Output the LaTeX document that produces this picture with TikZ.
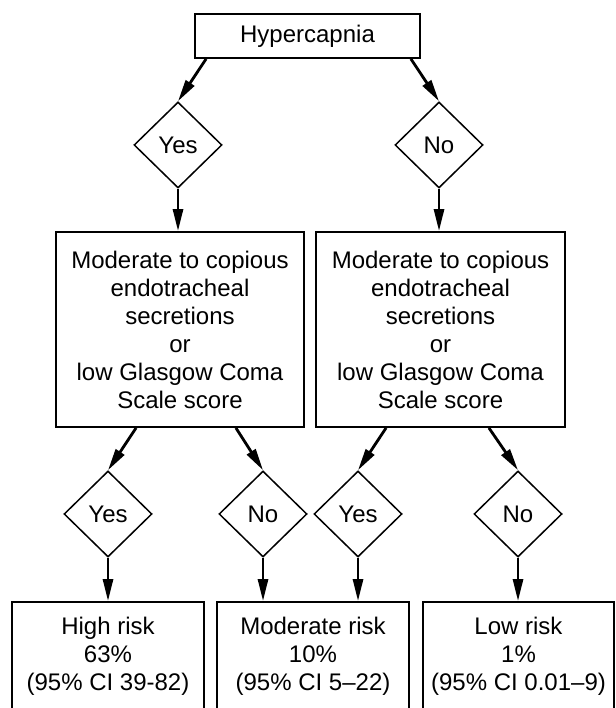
\documentclass[tikz,border=0pt]{standalone}
\usepackage{fontspec}
\setmainfont{Liberation Sans}
\usetikzlibrary{arrows.meta,shapes.geometric}

\begin{document}
\begin{tikzpicture}[x=1pt, y=1pt, font=\fontsize{24}{28}\selectfont,
	box/.style={draw, line width=1.8pt, align=center, inner sep=0pt},
	choice/.style={draw, diamond, line width=1.5pt, inner sep=0pt, minimum width=88pt, minimum height=86pt},
	arr/.style={line width=2.8pt, -{Triangle[length=22pt, width=10pt]}}]
	\useasboundingbox (0,0) rectangle (615,708);
	\clip (0,0) rectangle (615,708);
	\node[box, minimum width=225pt, minimum height=44pt] (hyper) at (307.5,672) {Hypercapnia};
	\node[choice] (yes1) at (178,563) {Yes};
	\node[choice] (no1) at (439,563) {No};
	\node[box, minimum width=248pt, minimum height=195pt] (secl) at (180,378.5) {Moderate to copious\\endotracheal\\secretions\\or\\low Glasgow Coma\\Scale score};
	\node[box, minimum width=249pt, minimum height=195pt] (secr) at (440.5,378.5) {Moderate to copious\\endotracheal\\secretions\\or\\low Glasgow Coma\\Scale score};
	\node[choice] (yes2) at (108,194) {Yes};
	\node[choice] (no2) at (263,194) {No};
	\node[choice] (yes3) at (358,194) {Yes};
	\node[choice] (no3) at (518,194) {No};
	\node[box, minimum width=192pt, minimum height=108pt] (high) at (108,52) {High risk\\63\%\\(95\% CI 39-82)};
	\node[box, minimum width=192pt, minimum height=108pt] (moder) at (313,52) {Moderate risk\\10\%\\(95\% CI 5–22)};
	\node[box, minimum width=191pt, minimum height=108pt] (low) at (518.5,52) {Low risk\\1\%\\(95\% CI 0.01–9)};
	\draw[arr] ([xshift=12pt]hyper.south west) -- (yes1.north);
	\draw[arr] ([xshift=-10pt]hyper.south east) -- (no1.north);
	\draw[arr] (yes1.south) -- (yes1.south |- secl.north);
	\draw[arr] (no1.south) -- (no1.south |- secr.north);
	\draw[arr] ([xshift=81pt]secl.south west) -- (yes2.north);
	\draw[arr] ([xshift=-69pt]secl.south east) -- (no2.north);
	\draw[arr] ([xshift=71pt]secr.south west) -- (yes3.north);
	\draw[arr] ([xshift=-77pt]secr.south east) -- (no3.north);
	\draw[arr] (yes2.south) -- (yes2.south |- high.north);
	\draw[arr] (no2.south) -- (no2.south |- moder.north);
	\draw[arr] (yes3.south) -- (yes3.south |- moder.north);
	\draw[arr] (no3.south) -- (no3.south |- low.north);
\end{tikzpicture}
\end{document}
